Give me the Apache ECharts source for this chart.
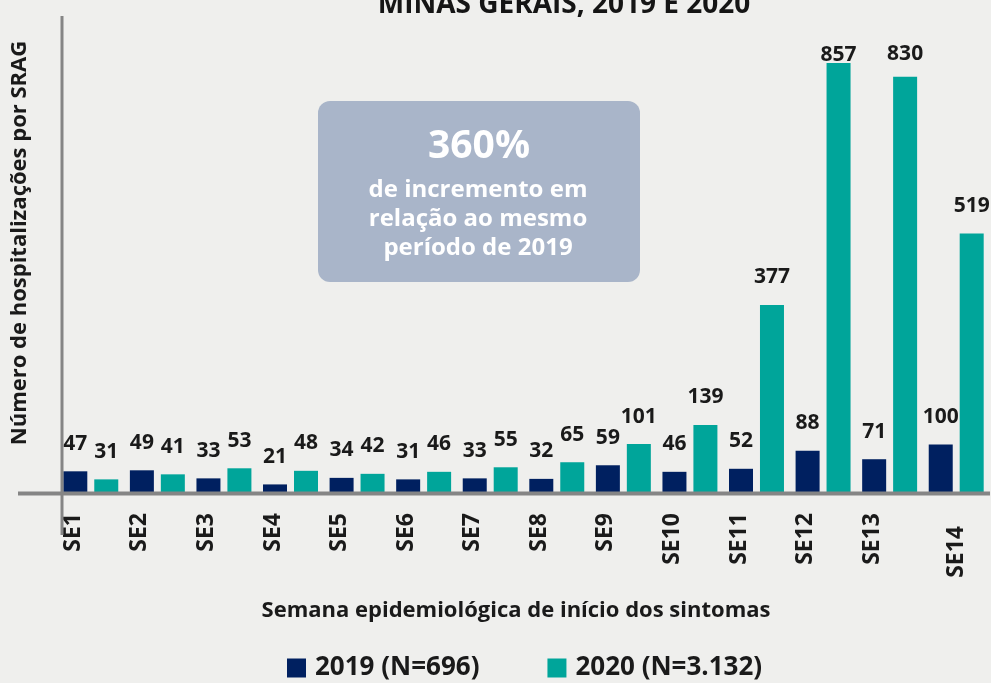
<!DOCTYPE html>
<html>
<head>
<meta charset="utf-8">
<script src="https://cdn.jsdelivr.net/npm/echarts@6/dist/echarts.min.js"></script>
<style>
html,body{margin:0;padding:0;background:#eeeeec;}
#chart{width:991px;height:683px;}
</style>
</head>
<body>
<div id="chart"></div>
<script>
const categories = ['SE1','SE2','SE3','SE4','SE5','SE6','SE7','SE8','SE9','SE10','SE11','SE12','SE13','SE14'];
const values2019 = [47,49,33,21,34,31,33,32,59,46,52,88,71,100];
const values2020 = [31,41,53,48,42,46,55,65,101,139,377,857,830,519];
const seriesNames = ['2019 (N=696)','2020 (N=3.132)'];
const titleText = 'MINAS GERAIS, 2019 E 2020';
const yName = 'Número de hospitalizações por SRAG';
const xName = 'Semana epidemiológica de início dos sintomas';
const boxBig = '360%';
const boxLines = ['de incremento em','relação ao mesmo','período de 2019'];

const FONT = '"Open Sans", "Noto Sans", sans-serif';
const NAVY = '#002060';
const TEAL = '#00a59a';
const TXT = '#1a1a1a';

// label offsets for the tallest bars (labels pushed against top)
const labelDistance2020 = {11: -2, 12: 12};

const chart = echarts.init(document.getElementById('chart'), null, {renderer:'canvas'});
const option = {
  backgroundColor: '#efefed',
  animation: false,
  grid: {left: 57.5, width: 932, top: 41.4, bottom: 188, containLabel: false},
  legend: {
    data: seriesNames,
    left: 287, top: 655, padding: 0,
    itemWidth: 19, itemHeight: 19, itemGap: 68,
    icon: 'rect',
    textStyle: {fontFamily: FONT, fontWeight: 'bold', fontSize: 26, color: TXT, padding: [0,0,0,4]}
  },
  xAxis: {
    type: 'category',
    data: categories,
    axisLine: {show: false},
    axisTick: {show: false},
    axisLabel: {
      rotate: 90, margin: 18, interval: 0,
      formatter: v => v === 'SE14' ? '{b|' + v + '}' : '{a|' + v + '}',
      rich: {
        a: {fontFamily: FONT, fontWeight: 'bold', fontSize: 23, color: TXT, padding: [0,0,35,0]},
        b: {fontFamily: FONT, fontWeight: 'bold', fontSize: 23, color: TXT, padding: [0,13,0,0]}
      }
    }
  },
  yAxis: {
    type: 'value', min: 0, max: 900,
    axisLine: {show: false}, axisTick: {show: false}, axisLabel: {show: false},
    splitLine: {show: false}
  },
  series: [
    {
      name: seriesNames[0], type: 'bar', barWidth: 24, barGap: '29%',
      itemStyle: {color: NAVY},
      data: values2019,
      label: {show: true, position: 'top', distance: 17, fontFamily: FONT, fontWeight: 'bold', fontSize: 21, color: TXT}
    },
    {
      name: seriesNames[1], type: 'bar', barWidth: 24, barGap: '29%',
      itemStyle: {color: TEAL},
      data: values2020.map((v, i) => labelDistance2020[i] !== undefined ? {value: v, label: {distance: labelDistance2020[i]}} : v),
      label: {show: true, position: 'top', distance: 17, fontFamily: FONT, fontWeight: 'bold', fontSize: 21, color: TXT}
    }
  ],
  graphic: [
    {type: 'line', z: 100, shape: {x1: 18, y1: 493.5, x2: 990, y2: 493.5}, style: {stroke: '#858585', lineWidth: 4}},
    {type: 'line', z: 100, shape: {x1: 62, y1: 16, x2: 62, y2: 535}, style: {stroke: '#858585', lineWidth: 3}},
    {type: 'text', z: 100, x: 564, y: 19, style: {text: titleText, fill: '#151515', font: 'bold 28px ' + FONT, textAlign: 'center', textVerticalAlign: 'bottom'}},
    {type: 'text', z: 100, x: 20, y: 243, rotation: Math.PI/2, style: {text: yName, fill: TXT, font: 'bold 22px ' + FONT, textAlign: 'center', textVerticalAlign: 'middle'}},
    {type: 'text', z: 100, x: 516, y: 611, style: {text: xName, fill: TXT, font: 'bold 22px ' + FONT, textAlign: 'center', textVerticalAlign: 'middle'}},
    {type: 'rect', z: 90, shape: {x: 318, y: 101, width: 322, height: 181, r: 12}, style: {fill: '#a9b5c9'}},
    {type: 'text', z: 100, x: 479, y: 147, style: {text: boxBig, fill: '#ffffff', font: 'bold 39px ' + FONT, textAlign: 'center', textVerticalAlign: 'middle'}},
    {type: 'text', z: 100, x: 478, y: 219, style: {text: boxLines.join('\n'), fill: '#ffffff', font: 'bold 24px ' + FONT, lineHeight: 29, textAlign: 'center', textVerticalAlign: 'middle'}}
  ]
};
chart.setOption(option);
</script>
</body>
</html>
